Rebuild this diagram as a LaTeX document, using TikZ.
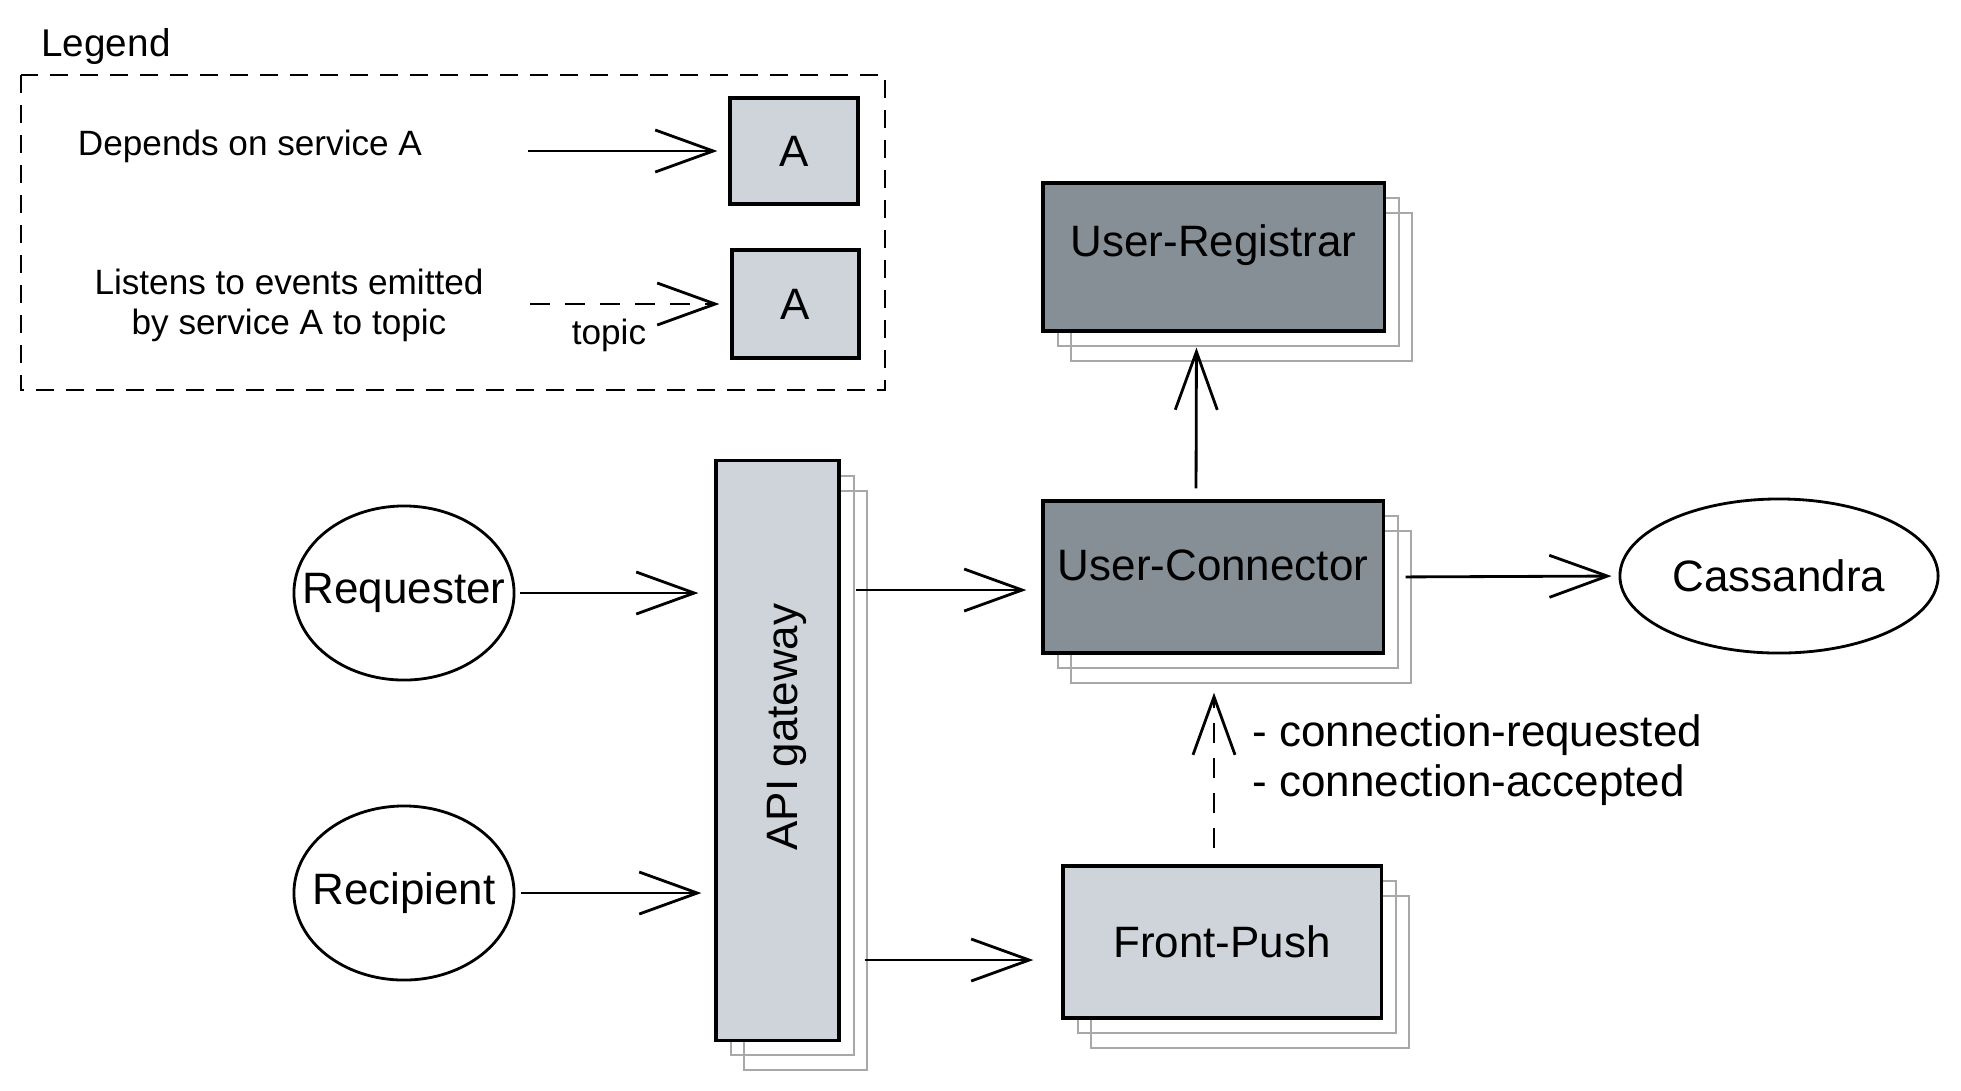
\documentclass[tikz,border=0pt]{standalone}
\usepackage{fontspec}
\setmainfont{Liberation Sans}
\usetikzlibrary{arrows.meta,shapes.geometric}
\definecolor{lightbox}{HTML}{CED4DA}
\definecolor{darkbox}{HTML}{868E96}
\definecolor{stackgray}{HTML}{A8A8A8}

\begin{document}
\begin{tikzpicture}[x=0.01cm,y=-0.01cm,
  dep/.style={line width=0.8pt,-{Straight Barb[length=5.8mm,width=4.2mm]}},
  events/.style={dep,dash pattern=on 0.2cm off 0.15cm},
  legendframe/.style={line width=0.8pt,dash pattern=on 0.18cm off 0.12cm},
  legendtext/.style={font=\fontsize{10}{11.4}\selectfont},
  maintext/.style={font=\fontsize{12.5}{14.2}\selectfont},
  service/.style={draw,line width=0.9pt,fill=lightbox,inner sep=0pt,maintext},
  stacked/.style={
    preaction={draw=stackgray,fill=none,line width=0.6pt,transform canvas={xshift=0.28cm,yshift=-0.3cm}},
    preaction={draw=stackgray,fill=none,line width=0.6pt,transform canvas={xshift=0.15cm,yshift=-0.15cm}}},
  actor/.style={draw,line width=0.8pt,ellipse,inner sep=0pt},
  raised/.style={label={[maintext,yshift=0.12cm]center:#1}}]
\useasboundingbox (0,0) rectangle (1961,1090);

\node[font=\fontsize{11}{13}\selectfont] (legendtitle) at (106,46) {Legend};
\draw [legendframe] (21,75) rectangle (885,390);
\node[legendtext] (deptext) at (250,146) {Depends on service A};
\node[service,minimum width=1.28cm,minimum height=1.06cm] (depA) at (794,151) {A};
\coordinate (depstart) at (528,151);
\draw [dep,shorten >=0.11cm] (depstart) -- (depstart -| depA.west);
\node[legendtext,align=center] (evttext) at (289,305) {Listens to events emitted\\by service A to topic};
\node[service,minimum width=1.27cm,minimum height=1.08cm] (evtA) at (795.5,304) {A};
\coordinate (evtstart) at (530,304);
\draw [events,shorten >=0.11cm] (evtstart) -- (evtstart -| evtA.west);
\node[legendtext] (topiclabel) at (609,335) {topic};

\node[service,stacked,minimum width=1.23cm,minimum height=5.79cm] (api) at (777.5,750.5) {};
\node[maintext,rotate=90] (apilabel) at (787,727) {API gateway};
\node[service,stacked,fill=darkbox,minimum width=3.41cm,minimum height=1.48cm,raised=User-Registrar] (ur) at (1213.5,257) {};
\node[service,stacked,fill=darkbox,minimum width=3.40cm,minimum height=1.52cm,raised=User-Connector] (uc) at (1213,577) {};
\node[service,stacked,minimum width=3.18cm,minimum height=1.52cm] (fp) at (1222,942) {Front-Push};
\node[actor,minimum width=2.2cm,minimum height=1.74cm,label={[maintext]center:Requester}] (req) at (404,593) {};
\node[actor,minimum width=2.2cm,minimum height=1.74cm,label={[maintext]center:Recipient}] (rec) at (404,893) {};
\node[actor,minimum width=3.18cm,minimum height=1.54cm,label={[maintext]center:Cassandra}] (cass) at (1779,576) {};

\draw [dep,shorten <=0.05cm,shorten >=0.16cm] (req.east) -- (req.east -| api.west);
\draw [dep,shorten <=0.06cm,shorten >=0.13cm] (rec.east) -- (rec.east -| api.west);
\draw [dep,shorten <=0.15cm,shorten >=0.15cm] ([yshift=-0.13cm]uc.west -| api.east) -- ([yshift=-0.13cm]uc.west);
\draw [dep,shorten <=0.24cm,shorten >=0.28cm] ([yshift=-0.18cm]fp.west -| api.east) -- ([yshift=-0.18cm]fp.west);
\draw [dep,shorten <=0.11cm,shorten >=0.15cm] ([xshift=-0.17cm]uc.north) -- ([xshift=-0.17cm]ur.south);
\draw [dep,shorten <=0.21cm,shorten >=0.07cm] (uc.east) -- (cass.west);
\draw [events,shorten <=0.16cm,shorten >=0.38cm] ([xshift=-0.08cm]fp.north) -- ([xshift=-0.08cm]fp.north |- uc.south);
\node[maintext,anchor=west,align=left] (topics) at (1240,760) {- connection-requested\\- connection-accepted};
\end{tikzpicture}
\end{document}
